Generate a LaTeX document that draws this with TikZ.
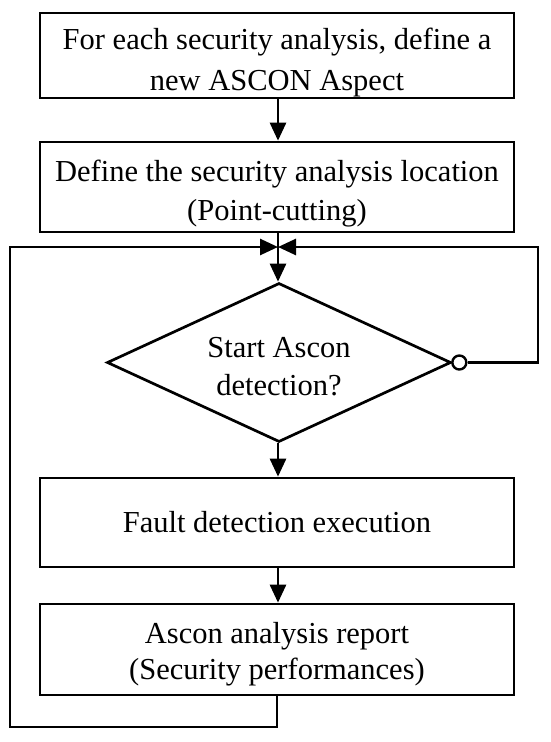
\documentclass[tikz,border=0pt]{standalone}
\usepackage{fontspec}
\setmainfont{Liberation Serif}
\usetikzlibrary{arrows.meta,shapes.geometric,calc}
\newcommand{\lift}[1]{\rule{0pt}{#1pt}}
\begin{document}
\begin{tikzpicture}[x=1pt,y=-1pt,
  line width=2.7pt,
  box/.style={draw,minimum width=474pt,inner sep=0pt,align=center,font=\fontsize{30.5}{41}\selectfont},
  dec/.style={draw,diamond,aspect=2.16,minimum width=344pt,minimum height=159pt,inner sep=0pt,align=center,font=\fontsize{30.5}{38}\selectfont},
  arr/.style={-{Triangle[length=18pt,width=16pt]}},
  ]
\useasboundingbox (0,0) rectangle (550,742);
\node[box,minimum height=85pt] (b1) at (277,55.5) {\lift{34.6}For each security analysis, define a\\new ASCON Aspect};
\node[box,minimum height=90pt,font=\fontsize{30.5}{39}\selectfont] (b2) at (277,187) {\lift{33.6}Define the security analysis location\\(Point-cutting)};
\node[dec] (d) at (279,362.5) {\lift{28}Start Ascon\\detection?};
\node[box,minimum height=89pt] (b3) at (277,522.5) {Fault detection execution};
\node[box,minimum height=91pt,font=\fontsize{30.5}{36}\selectfont] (b4) at (277,649.5) {\lift{29.6}Ascon analysis report\\(Security performances)};
\coordinate (j) at (278,247);
\coordinate (l1) at (10,247);
\coordinate (l2) at (10,727);
\coordinate (l3) at (277,727);
\coordinate (r1) at (538,247);
\coordinate (r2) at (538,362.5);
\draw[arr] (b1.south -| j) -- (b2.north -| j);
\draw (b2.south -| j) -- (j);
\draw[arr] (j) -- (j |- d.north);
\draw[arr] (j |- d.south) -- (j |- b3.north);
\draw[arr] (j |- b3.south) -- (j |- b4.north);
\draw[arr] (b4.south -| l3) -- (l3) -- (l2) -- (l1) -- (j);
\node[draw,circle,fill=white,minimum size=14pt,inner sep=0pt,line width=2.4pt] (c) at ($(d.east)+(7,0)$) {};
\draw[arr] (c.east) -- (r2) -- (r1) -- (j);
\end{tikzpicture}
\end{document}
